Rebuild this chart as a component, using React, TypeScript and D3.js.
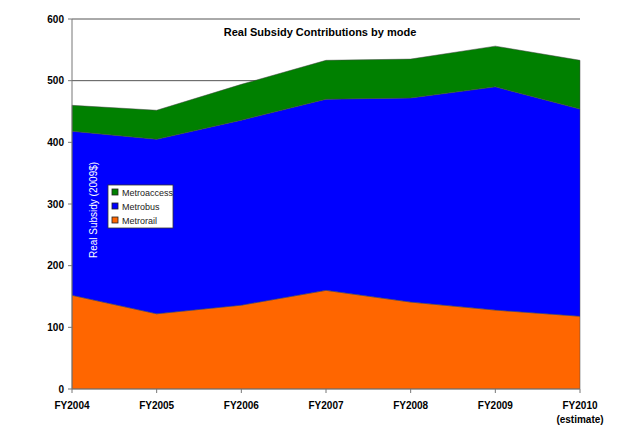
import * as d3 from 'd3';

const years = ['FY2004', 'FY2005', 'FY2006', 'FY2007', 'FY2008', 'FY2009', 'FY2010'];
const metrorail = [152, 122, 136, 160, 141, 128, 118];
const metrobus = [266, 283, 300, 310, 331, 362, 336];
const metroaccess = [42, 47, 58, 63, 63, 66, 79];
const yTicks = [0, 100, 200, 300, 400, 500, 600];

const seriesNames = ['Metrorail', 'Metrobus', 'Metroaccess'];
const seriesColors: {[k: string]: string} = {
    Metrorail: '#FF6600',
    Metrobus: '#0000FF',
    Metroaccess: '#008000',
};

const W = 640, H = 438;
const margin = {left: 72, right: 60, top: 19, bottom: 49};
const font = '"Liberation Sans", Arial, sans-serif';

const App = () => {
    const rows = years.map((y, i) => ({
        year: y,
        Metrorail: metrorail[i],
        Metrobus: metrobus[i],
        Metroaccess: metroaccess[i],
    }));

    const x = d3.scalePoint<string>().domain(years).range([margin.left, W - margin.right]);
    const y = d3.scaleLinear().domain([0, 600]).range([H - margin.bottom, margin.top]);

    const stack = d3.stack<any>().keys(seriesNames);
    const layers = stack(rows);

    const area = d3.area<any>()
        .x(d => x(d.data.year)!)
        .y0(d => y(d[0]))
        .y1(d => y(d[1]));

    const x0 = margin.left, x1 = W - margin.right;

    // legend, top to bottom
    const legendItems = ['Metroaccess', 'Metrobus', 'Metrorail'];

    return (
        <svg width={W} height={H} style={{position: 'absolute', left: 0, top: 0, background: '#fff'}} fontFamily={font}>
            {/* gridlines */}
            {yTicks.filter(t => t > 0).map(t => (
                <line key={t} x1={x0} x2={x1} y1={y(t)} y2={y(t)} stroke="#555" strokeWidth={1} />
            ))}

            {layers.map(l => (
                <path key={l.key} d={area(l) ?? ''} fill={seriesColors[l.key]} stroke="#444" strokeWidth={0.5} />
            ))}

            {/* y axis */}
            <line x1={x0} x2={x0} y1={y(0)} y2={y(600)} stroke="#777" />
            {yTicks.map(t => (
                <g key={t}>
                    <line x1={x0 - 4} x2={x0} y1={y(t)} y2={y(t)} stroke="#777" />
                    <text x={x0 - 8} y={y(t)} dy="0.35em" textAnchor="end" fontSize={10} fontWeight="bold">{t}</text>
                </g>
            ))}

            {/* x axis */}
            <line x1={x0} x2={x1} y1={y(0)} y2={y(0)} stroke="#777" />
            {years.map(yr => (
                <g key={yr}>
                    <line x1={x(yr)} x2={x(yr)} y1={y(0)} y2={y(0) + 4} stroke="#777" />
                    <text x={x(yr)} y={y(0) + 20} textAnchor="middle" fontSize={10} fontWeight="bold">{yr}</text>
                </g>
            ))}
            <text x={x('FY2010')} y={y(0) + 34} textAnchor="middle" fontSize={10} fontWeight="bold">(estimate)</text>

            <text x={320} y={36} textAnchor="middle" fontSize={11} fontWeight="bold">Real Subsidy Contributions by mode</text>

            <text transform={`translate(97,210) rotate(-90)`} textAnchor="middle" fontSize={10} fill="#fff">Real Subsidy (2009$)</text>

            {/* legend */}
            <g transform="translate(108,185)">
                <rect x={0} y={0} width={65} height={43} fill="#fff" stroke="#333" strokeWidth={0.8} />
                {legendItems.map((k, i) => (
                    <g key={k} transform={`translate(4,${8 + i * 14})`}>
                        <rect x={0} y={-4} width={6} height={6} fill={seriesColors[k]} stroke="#222" strokeWidth={0.8} />
                        <text x={10} y={0} dy="0.35em" fontSize={9} fill="#222">{k}</text>
                    </g>
                ))}
            </g>
        </svg>
    );
};

export default App;
